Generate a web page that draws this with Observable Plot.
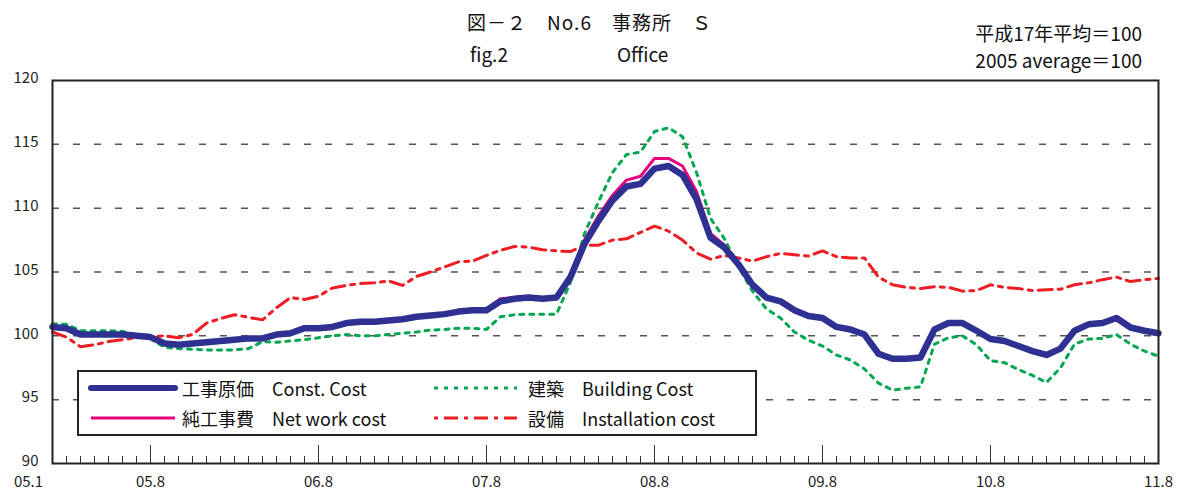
<!DOCTYPE html>
<html>
<head>
<meta charset="utf-8">
<script src="https://cdn.jsdelivr.net/npm/d3@7"></script>
<script src="https://cdn.jsdelivr.net/npm/@observablehq/plot@0.6"></script>
<style>
  body { margin: 0; background: #fff; }
  #wrap { position: relative; width: 1179px; height: 495px; background: #fff; font-family: "Noto Sans CJK JP", sans-serif; color: #111; }
  .t { position: absolute; font-size: 19px; line-height: 20px; white-space: pre; }
  #chart { position: absolute; left: 0; top: 0; }
  #legend { position: absolute; left: 77px; top: 370px; width: 680px; height: 66px; border: 2px solid #222; background: #fff; box-sizing: border-box; }
  #legend .lt { position: absolute; font-size: 18px; line-height: 20px; white-space: pre; }
  #legend svg { position: absolute; left: 0; top: 0; }
</style>
</head>
<body>
<div id="wrap">
  <div id="chart"></div>
  <div class="t" style="left:0;width:1179px;text-align:center;top:12px;letter-spacing:1px;">図－２　No.6　事務所　Ｓ</div>
  <div class="t" style="left:470px;top:44px;">fig.2</div>
  <div class="t" style="left:617px;top:44px;">Office</div>
  <div class="t" style="right:37px;top:23px;text-align:right;">平成17年平均＝100</div>
  <div class="t" style="right:37px;top:50px;text-align:right;">2005 average＝100</div>
  <div id="legend">
    <svg width="676" height="62">
      <line x1="12" x2="96" y1="16" y2="16" stroke="#2E3192" stroke-width="6" stroke-linecap="round"/>
      <line x1="12" x2="96" y1="46" y2="46" stroke="#E4007F" stroke-width="3"/>
      <line x1="355" x2="438" y1="16" y2="16" stroke="#00A650" stroke-width="3" stroke-dasharray="4,6"/>
      <line x1="355" x2="438" y1="46" y2="46" stroke="#EE1D23" stroke-width="3" stroke-dasharray="4,6,14,6"/>
    </svg>
    <div class="lt" style="left:103px;top:6px;">工事原価　Const. Cost</div>
    <div class="lt" style="left:103px;top:36px;">純工事費　Net work cost</div>
    <div class="lt" style="left:449px;top:6px;">建築　Building Cost</div>
    <div class="lt" style="left:449px;top:36px;">設備　Installation cost</div>
  </div>
</div>
<script>
// Monthly index values, Jan 2005 (05.1) to Aug 2011 (11.8)
const tickIdx = [0, 7, 19, 31, 43, 55, 67, 79];
const tickLabels = ["05.1", "05.8", "06.8", "07.8", "08.8", "09.8", "10.8", "11.8"];
const yTicks = [90, 95, 100, 105, 110, 115, 120];
const gridVals = [95, 100, 105, 110, 115];

const constCost = [
  100.7, 100.6, 100.1, 100.1, 100.1, 100.1, 100.0, 99.9, 99.4, 99.3,
  99.4, 99.5, 99.6, 99.7, 99.8, 99.8, 100.1, 100.2, 100.6, 100.6,
  100.7, 101.0, 101.1, 101.1, 101.2, 101.3, 101.5, 101.6, 101.7, 101.9,
  102.0, 102.0, 102.7, 102.9, 103.0, 102.9, 103.0, 104.6, 107.2, 109.0,
  110.6, 111.7, 111.9, 113.1, 113.3, 112.6, 110.7, 107.7, 106.9, 105.6,
  104.0, 103.0, 102.7, 102.0, 101.55, 101.4, 100.7, 100.5, 100.1, 98.6,
  98.2, 98.2, 98.3, 100.5, 101.0, 101.0, 100.4, 99.75, 99.6, 99.2,
  98.8, 98.5, 99.0, 100.4, 100.9, 101.0, 101.4, 100.65, 100.4, 100.2
];
const netWork = [
  100.7, 100.6, 100.1, 100.1, 100.1, 100.1, 100.0, 99.9, 99.4, 99.3,
  99.4, 99.5, 99.6, 99.7, 99.8, 99.8, 100.1, 100.2, 100.6, 100.6,
  100.7, 101.0, 101.1, 101.1, 101.2, 101.3, 101.5, 101.6, 101.7, 101.9,
  102.0, 102.1, 102.9, 103.0, 103.1, 103.0, 103.1, 104.8, 107.5, 109.4,
  111.0, 112.2, 112.5, 113.9, 113.9, 113.3, 111.3, 108.0, 107.1, 105.7,
  104.0, 103.0, 102.7, 102.0, 101.55, 101.4, 100.7, 100.5, 100.1, 98.6,
  98.2, 98.2, 98.3, 100.5, 101.0, 101.0, 100.4, 99.75, 99.6, 99.2,
  98.8, 98.5, 99.0, 100.4, 100.9, 101.0, 101.4, 100.65, 100.4, 100.2
];
const building = [
  100.95, 100.9, 100.4, 100.4, 100.4, 100.35, 100.1, 99.8, 99.1, 99.0,
  98.95, 98.9, 98.9, 98.9, 99.0, 99.55, 99.5, 99.6, 99.7, 99.85,
  100.0, 100.1, 100.0, 100.0, 100.1, 100.2, 100.3, 100.45, 100.5, 100.6,
  100.6, 100.5, 101.5, 101.65, 101.7, 101.7, 101.7, 104.2, 108.0, 110.5,
  112.8, 114.2, 114.4, 116.0, 116.3, 115.6, 112.8, 109.2, 107.6, 105.4,
  103.5, 102.1, 101.4, 100.3, 99.65, 99.2, 98.5, 98.1, 97.4, 96.3,
  95.75, 95.9, 96.0, 99.35, 99.85, 100.0, 99.3, 98.05, 97.9, 97.35,
  96.9, 96.35, 97.5, 99.35, 99.75, 99.8, 100.1, 99.35, 98.8, 98.4
];
const installation = [
  100.3, 99.9, 99.15, 99.3, 99.55, 99.7, 99.85, 99.9, 100.0, 99.85,
  100.1, 101.0, 101.35, 101.65, 101.45, 101.25, 102.2, 103.0, 102.85, 103.1,
  103.75, 103.95, 104.1, 104.15, 104.3, 103.95, 104.65, 105.0, 105.4, 105.8,
  105.85, 106.3, 106.7, 107.0, 106.95, 106.75, 106.65, 106.6, 107.1, 107.1,
  107.5, 107.6, 108.1, 108.6, 108.2, 107.5, 106.5, 106.0, 106.3, 106.1,
  105.85, 106.2, 106.45, 106.35, 106.25, 106.65, 106.2, 106.1, 106.1, 104.6,
  104.0, 103.8, 103.7, 103.85, 103.8, 103.5, 103.55, 104.0, 103.8, 103.7,
  103.55, 103.6, 103.65, 104.0, 104.15, 104.4, 104.6, 104.25, 104.4, 104.5
];

const monthIdx = constCost.map((_, i) => i);
const labelOf = d => tickLabels[tickIdx.indexOf(d)];
const tickFont = "'Noto Sans CJK JP', sans-serif";

const chart = Plot.plot({
  width: 1179,
  height: 495,
  marginLeft: 52,
  marginRight: 21,
  marginTop: 80,
  marginBottom: 32,
  style: { fontFamily: tickFont, fontSize: "15px", color: "#222", background: "transparent" },
  x: { domain: [0, 79] },
  y: { domain: [90, 120] },
  marks: [
    Plot.ruleY(gridVals, { stroke: "#555", strokeWidth: 1.5, strokeDasharray: "7,14" }),
    Plot.ruleX(monthIdx, { stroke: "#333", strokeWidth: 1, insetTop: 376 }),
    Plot.ruleX(tickIdx, { stroke: "#333", strokeWidth: 1, insetTop: 365 }),
    Plot.line(building, { x: monthIdx, y: d => d, stroke: "#00A650", strokeWidth: 3, strokeDasharray: "4,6" }),
    Plot.line(installation, { x: monthIdx, y: d => d, stroke: "#EE1D23", strokeWidth: 3, strokeDasharray: "14,6,4,6" }),
    Plot.line(netWork, { x: monthIdx, y: d => d, stroke: "#E4007F", strokeWidth: 3 }),
    Plot.line(constCost, { x: monthIdx, y: d => d, stroke: "#2E3192", strokeWidth: 6.5, strokeLinejoin: "round" }),
    Plot.frame({ stroke: "#222", strokeWidth: 2 }),
    Plot.axisY(yTicks, { tickSize: 0, tickPadding: 14, fontSize: 15, dy: -2, tickFormat: d => String(d) }),
    Plot.axisX(tickIdx.slice(1), { tickSize: 0, tickPadding: 13, fontSize: 15, tickFormat: labelOf }),
    Plot.axisX(tickIdx.slice(0, 1), { tickSize: 0, tickPadding: 13, fontSize: 15, dx: -24, tickFormat: labelOf })
  ]
});
document.getElementById("chart").appendChild(chart);
</script>
</body>
</html>
